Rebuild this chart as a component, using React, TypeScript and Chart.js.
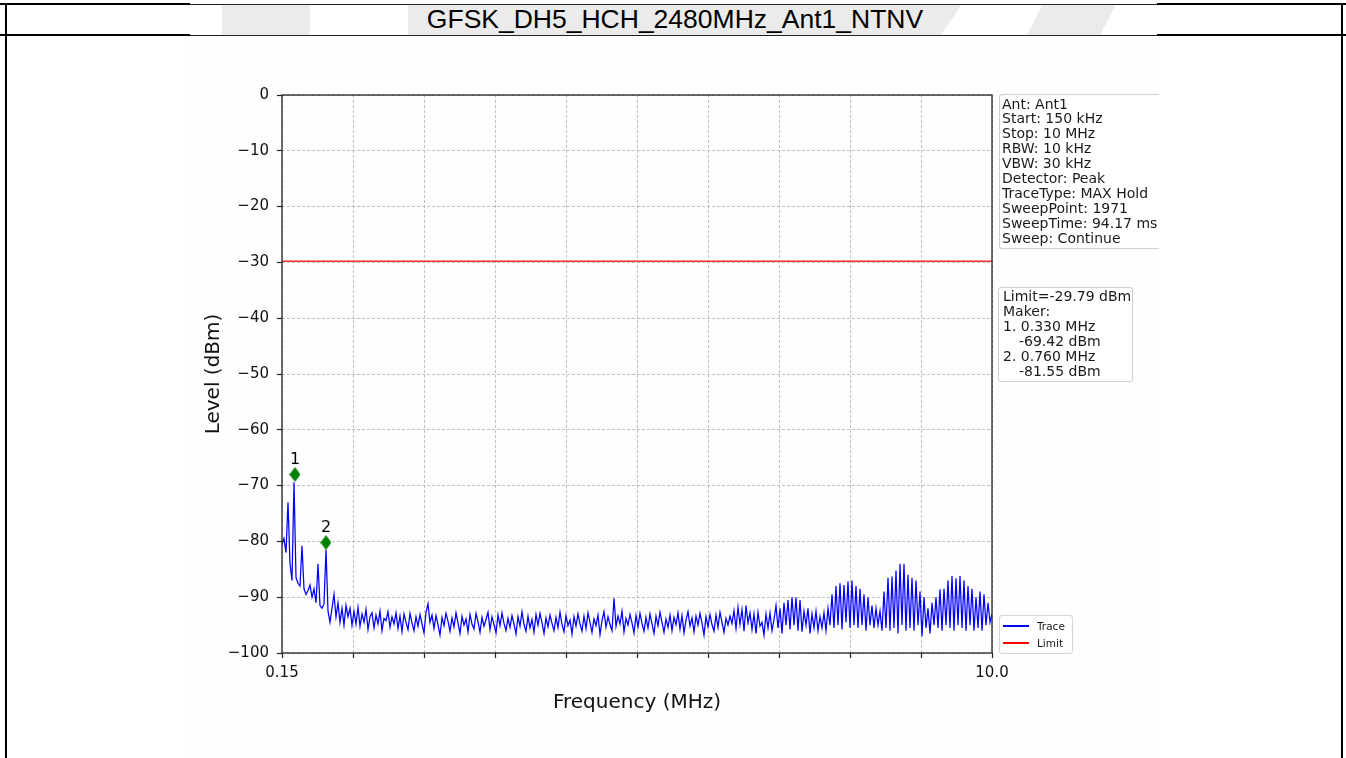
import React, { useEffect, useRef } from 'react';
import { Chart, registerables } from 'chart.js';

Chart.register(...registerables);

const TITLE = 'GFSK_DH5_HCH_2480MHz_Ant1_NTNV';
const START_MHZ = 0.15;
const STOP_MHZ = 10.0;
const LIMIT_DBM = -29.79;

// Trace levels (dBm), evenly spaced sweep points from START_MHZ to STOP_MHZ
const traceLevels = [
  // 0-9
  -80.5, -79.5, -82, -73, -84, -87, -69.4, -86.5, -87.5, -88,
  // 10-19
  -80.8, -88.5, -89.5, -88.8, -87.8, -90, -88.5, -91, -84, -91.5,
  // 20-29
  -92, -91.2, -81.5, -92.5, -94.5, -92, -89.5, -93.5, -91, -94.5,
  // 30-35
  -92, -95, -91.5, -93.5, -92, -95,
  // 36-45
  -92.5, -94.8, -91.8, -95.2, -93, -94.5, -92.2, -95.8, -93.5, -92.8,
  -95.5, -93.2, -94.8, -92.5, -96, -93.8, -94.2, -92.6, -95.4, -93.5,
  -94.8, -92.8, -95.6, -93.4, -96.2, -93, -94.5, -95.8, -92.9, -94.6,
  -96, -93.5, -95.2, -93.1, -94.8, -96.4, -92.7, -91.2, -94.5, -93.2,
  -95.6, -93.3, -94.9, -96.8, -93.6, -95.1, -92.9, -94.3, -96.1, -93.7,
  -95.3, -92.8, -94.6, -96.5, -93.4, -95, -93.9, -96.2, -93.1, -94.8,
  -95.7, -92.9, -94.4, -96.3, -93.6, -95.2, -94, -92.7, -95.8, -93.5,
  -94.9, -96.4, -93.2, -95.1, -92.8, -94.7, -96, -93.8, -95.4, -93.3,
  -94.8, -96.6, -93.5, -95.2, -92.6, -94.9, -96.1, -93.4, -95.5, -94,
  -96.3, -93.1, -95, -92.9, -94.6, -96.5, -93.7, -95.3, -93.2, -94.7,
  -96, -93.6, -95.4, -92.7, -94.9, -96.2, -93.3, -95.1, -94.1, -96.6,
  -93.5, -95.2, -93, -94.8, -96.1, -93.4, -95.6, -92.8, -94.5, -96.3,
  -93.9, -95.1, -93.2, -96.7, -94.2, -92.6, -95.4, -93.5, -94.9, -96,
  -90.2, -95.2, -93.4, -94.8, -92.5, -96.2, -93.8, -95, -93.1, -94.6,
  -96.4, -93.3, -95.3, -92.9, -94.7, -96.1, -93.6, -95.5, -93, -94.8,
  -96.5, -93.4, -95.1, -92.7, -94.5, -96.3, -93.9, -95.4, -93.2, -96,
  -93.6, -94.9, -92.8, -95.7, -93.3, -96.4, -94.1, -92.6, -95.2, -93.7,
  -96.2, -93.4, -95, -92.9, -94.6, -96.8, -93.5, -95.3, -93.1, -94.9,
  -96.1, -93.2, -95.4, -92.7, -94.5, -96.3, -93.8, -95, -93.4, -94.7,
  -92.4, -95.6, -91.8, -94.9, -92.2, -96.1, -91.5, -94.6, -92.8, -95.8,
  // 236-239
  -93, -96.5, -92.7, -95.2,
  // 240-246
  -94.5, -96.8, -93, -95.5, -92.8, -96, -94,
  // 247-259
  -91.5, -95.5, -92, -96.5, -91, -95, -90.5, -95.8, -90, -95, -90, -96, -90.5,
  // 260-274
  -96.2, -92.5, -95, -92, -96.5, -93, -95.5, -92.5, -96, -93.5, -95.5, -92.8, -96, -92, -95,
  // 275-287
  -89.5, -95.5, -88, -95, -87.5, -95.8, -87.8, -94.5, -87.2, -95.5, -87, -95, -88,
  // 288-299
  -95.5, -88.5, -95, -89.5, -96, -90, -95, -91.5, -95.5, -92, -95, -92.5,
  // 300-319
  -96, -89, -95.5, -86.5, -96, -86.3, -95.5, -85.2, -96.5, -84,
  -95, -84, -96, -86, -95.5, -86.5, -96, -87, -95, -89,
  // 320-326
  -97, -90, -95.5, -92, -96.5, -91, -95,
  // 327-355
  -90, -95.5, -88.6, -96, -88.5, -95, -87, -95.5, -86.2, -96,
  -86.6, -95, -86.2, -95.5, -87, -96, -88, -95, -88.5, -96,
  -90, -95.5, -89, -96, -89.5, -95, -91, -94.5, -93,
];

const markerFreqs = [0.33, 0.76];
const markerLevels = [-68.0, -80.2];
const markerLabels = ['1', '2'];

const xTickValues = [0.15, 1.135, 2.12, 3.105, 4.09, 5.075, 6.06, 7.045, 8.03, 9.015, 10.0];
const xTickLabels = ['0.15', '', '', '', '', '', '', '', '', '', '10.0'];
const yTickValues = [0, -10, -20, -30, -40, -50, -60, -70, -80, -90, -100];
const yTickLabels = ['0', '\u221210', '\u221220', '\u221230', '\u221240', '\u221250', '\u221260', '\u221270', '\u221280', '\u221290', '\u2212100'];

const infoLines = [
  'Ant: Ant1',
  'Start: 150 kHz',
  'Stop: 10 MHz',
  'RBW: 10 kHz',
  'VBW: 30 kHz',
  'Detector: Peak',
  'TraceType: MAX Hold',
  'SweepPoint: 1971',
  'SweepTime: 94.17 ms',
  'Sweep: Continue',
];
const markerInfoLines = [
  { text: 'Limit=-29.79 dBm', indent: 0 },
  { text: 'Maker:', indent: 0 },
  { text: '1. 0.330 MHz', indent: 0 },
  { text: '-69.42 dBm', indent: 16 },
  { text: '2. 0.760 MHz', indent: 0 },
  { text: '-81.55 dBm', indent: 16 },
];
const legendItems = [
  { label: 'Trace', color: '#0000ff' },
  { label: 'Limit', color: '#ff0000' },
];

const FONT = '"DejaVu Sans", sans-serif';

export default function App() {
  const canvasRef = useRef<HTMLCanvasElement | null>(null);

  useEffect(() => {
    const canvas = canvasRef.current;
    if (!canvas) return;
    const n = traceLevels.length;
    const step = (STOP_MHZ - START_MHZ) / (n - 1);
    const traceData = traceLevels.map((v, i) => ({ x: START_MHZ + i * step, y: v }));
    const markerData = markerFreqs.map((f, i) => ({ x: f, y: markerLevels[i] }));

    const diamond = document.createElement('canvas');
    diamond.width = 11;
    diamond.height = 15;
    const dctx = diamond.getContext('2d')!;
    dctx.fillStyle = '#008000';
    dctx.beginPath();
    dctx.moveTo(5.5, 0);
    dctx.lineTo(11, 7.5);
    dctx.lineTo(5.5, 15);
    dctx.lineTo(0, 7.5);
    dctx.closePath();
    dctx.fill();

    const framePlugin = {
      id: 'framePlugin',
      afterDatasetsDraw(chart: any) {
        const { ctx, chartArea: a } = chart;
        ctx.save();
        const meta = chart.getDatasetMeta(2);
        ctx.font = '16px ' + FONT;
        ctx.fillStyle = '#000';
        ctx.textAlign = 'center';
        ctx.textBaseline = 'middle';
        meta.data.forEach((el: any, i: number) => {
          ctx.fillText(markerLabels[i], el.x, el.y - 15);
        });
        ctx.strokeStyle = '#222';
        ctx.lineWidth = 1.3;
        ctx.setLineDash([]);
        ctx.strokeRect(a.left, a.top, a.right - a.left, a.bottom - a.top);
        ctx.restore();
      },
    };

    const tickFont = { family: FONT, size: 15 };
    const chart = new Chart(canvas, {
      type: 'line',
      data: {
        datasets: [
          {
            label: 'Trace',
            data: traceData,
            borderColor: '#0000ff',
            borderWidth: 1.25,
            pointRadius: 0,
            tension: 0,
            order: 3,
          },
          {
            label: 'Limit',
            data: [
              { x: START_MHZ, y: LIMIT_DBM },
              { x: STOP_MHZ, y: LIMIT_DBM },
            ],
            borderColor: '#ff3030',
            borderWidth: 1.5,
            pointRadius: 0,
            order: 2,
          },
          {
            label: 'Markers',
            data: markerData,
            showLine: false,
            pointStyle: diamond as any,
            pointRadius: 7,
            backgroundColor: '#008000',
            borderColor: '#008000',
            order: 1,
          },
        ],
      },
      options: {
        responsive: false,
        animation: false,
        devicePixelRatio: 1,
        events: [],
        layout: { padding: { left: 182, right: 354, top: 95, bottom: 35 } },
        plugins: {
          legend: { display: false },
          tooltip: { enabled: false },
        },
        scales: {
          x: {
            type: 'linear',
            min: START_MHZ,
            max: STOP_MHZ,
            afterBuildTicks: (scale: any) => {
              scale.ticks = xTickValues.map((v) => ({ value: v }));
            },
            afterFit: (scale: any) => {
              scale.height = 70;
            },
            ticks: {
              autoSkip: false,
              maxRotation: 0,
              minRotation: 0,
              padding: 6,
              color: '#111',
              font: tickFont,
              callback: (v: any) => {
                const idx = xTickValues.indexOf(Number(v));
                return idx >= 0 ? xTickLabels[idx] : '';
              },
            },
            grid: {
              color: '#b0b0b0',
              lineWidth: 0.8,
              tickColor: '#222',
              tickLength: 5,
              tickWidth: 1.2,
              tickBorderDash: [],
            },
            border: { display: false, dash: [3, 2] },
            title: {
              display: true,
              text: 'Frequency (MHz)',
              color: '#111',
              font: { family: FONT, size: 20 },
              padding: { top: 0, bottom: 8 },
            },
          },
          y: {
            type: 'linear',
            min: -100,
            max: 0,
            afterBuildTicks: (scale: any) => {
              scale.ticks = yTickValues.map((v) => ({ value: v }));
            },
            afterFit: (scale: any) => {
              scale.width = 100;
            },
            ticks: {
              autoSkip: false,
              padding: 8,
              color: '#111',
              font: tickFont,
              callback: (v: any) => {
                const idx = yTickValues.indexOf(Number(v));
                return idx >= 0 ? yTickLabels[idx] : '';
              },
            },
            grid: {
              color: '#b0b0b0',
              lineWidth: 0.8,
              tickColor: '#222',
              tickLength: 5,
              tickWidth: 1.2,
              tickBorderDash: [],
            },
            border: { display: false, dash: [3, 2] },
            title: {
              display: true,
              text: 'Level (dBm)',
              color: '#111',
              font: { family: FONT, size: 20 },
              padding: { top: 20, bottom: 0 },
            },
          },
        },
      } as any,
      plugins: [framePlugin],
    });
    return () => chart.destroy();
  }, []);

  const black = '#000';
  return (
    <div style={{ position: 'fixed', left: 0, top: 0, width: 1346, height: 758, background: '#fff', overflow: 'hidden' }}>
      <div style={{ position: 'absolute', left: 190, top: 36, width: 970, height: 722, background: '#fefefe' }} />
      <svg width={1346} height={40} style={{ position: 'absolute', left: 0, top: 0 }}>
        <polygon points="222,4 310,4 310,35 222,35" fill="#ebebeb" />
        <polygon points="408,4 962,4 941,35 408,35" fill="#ebebeb" />
        <polygon points="1043,4 1116,4 1100,35 1027,35" fill="#ebebeb" />
      </svg>
      {/* table lines */}
      <div style={{ position: 'absolute', left: 0, top: 3, width: 190, height: 2, background: black }} />
      <div style={{ position: 'absolute', left: 190, top: 3.5, width: 967, height: 1, background: '#222' }} />
      <div style={{ position: 'absolute', left: 1157, top: 3, width: 189, height: 2, background: black }} />
      <div style={{ position: 'absolute', left: 0, top: 34, width: 190, height: 2, background: black }} />
      <div style={{ position: 'absolute', left: 190, top: 34.5, width: 967, height: 1, background: '#222' }} />
      <div style={{ position: 'absolute', left: 1157, top: 34, width: 189, height: 2, background: black }} />
      <div style={{ position: 'absolute', left: 4.5, top: 3, width: 2, height: 755, background: black }} />
      <div style={{ position: 'absolute', left: 1341, top: 3, width: 2, height: 755, background: black }} />
      <div
        style={{
          position: 'absolute',
          left: 675,
          top: 4,
          height: 31,
          lineHeight: '31px',
          transform: 'translateX(-50%)',
          whiteSpace: 'nowrap',
          fontFamily: '"Liberation Sans", Arial, sans-serif',
          fontSize: 26.5,
          color: '#000',
        }}
      >
        {TITLE}
      </div>
      <canvas ref={canvasRef} width={1346} height={758} style={{ position: 'absolute', left: 0, top: 0, width: 1346, height: 758 }} />
      {/* info box */}
      <div
        style={{
          position: 'absolute',
          left: 999,
          top: 94,
          width: 160,
          height: 155,
          boxSizing: 'border-box',
          border: '1px solid #cfcfcf',
          borderRight: 'none',
          borderRadius: '3px 0 0 3px',
          background: 'rgba(255,255,255,0.8)',
          paddingLeft: 2,
          paddingTop: 1.5,
          fontFamily: FONT,
          fontSize: 14,
          lineHeight: '14.9px',
          color: '#1a1a1a',
          whiteSpace: 'nowrap',
          overflow: 'hidden',
        }}
      >
        {infoLines.map((t, i) => (
          <div key={i}>{t}</div>
        ))}
      </div>
      <div
        style={{
          position: 'absolute',
          left: 998,
          top: 287,
          width: 135,
          height: 95,
          boxSizing: 'border-box',
          border: '1px solid #cfcfcf',
          borderRadius: 3,
          background: 'rgba(255,255,255,0.8)',
          paddingLeft: 4,
          paddingTop: 1,
          fontFamily: FONT,
          fontSize: 14,
          lineHeight: '15px',
          color: '#1a1a1a',
          whiteSpace: 'nowrap',
        }}
      >
        {markerInfoLines.map((t, i) => (
          <div key={i} style={{ paddingLeft: t.indent }}>
            {t.text}
          </div>
        ))}
      </div>
      {/* legend */}
      <div
        style={{
          position: 'absolute',
          left: 999,
          top: 615,
          width: 74,
          height: 39,
          boxSizing: 'border-box',
          border: '1px solid #d6d6d6',
          borderRadius: 3,
          background: 'rgba(255,255,255,0.8)',
          fontFamily: FONT,
          fontSize: 10.5,
          color: '#1a1a1a',
        }}
      >
        {legendItems.map((it, i) => (
          <React.Fragment key={i}>
            <div style={{ position: 'absolute', left: 3, top: 9 + i * 17, width: 26, height: 2, background: it.color }} />
            <div style={{ position: 'absolute', left: 37, top: 3 + i * 17, lineHeight: '14px' }}>{it.label}</div>
          </React.Fragment>
        ))}
      </div>
    </div>
  );
}
